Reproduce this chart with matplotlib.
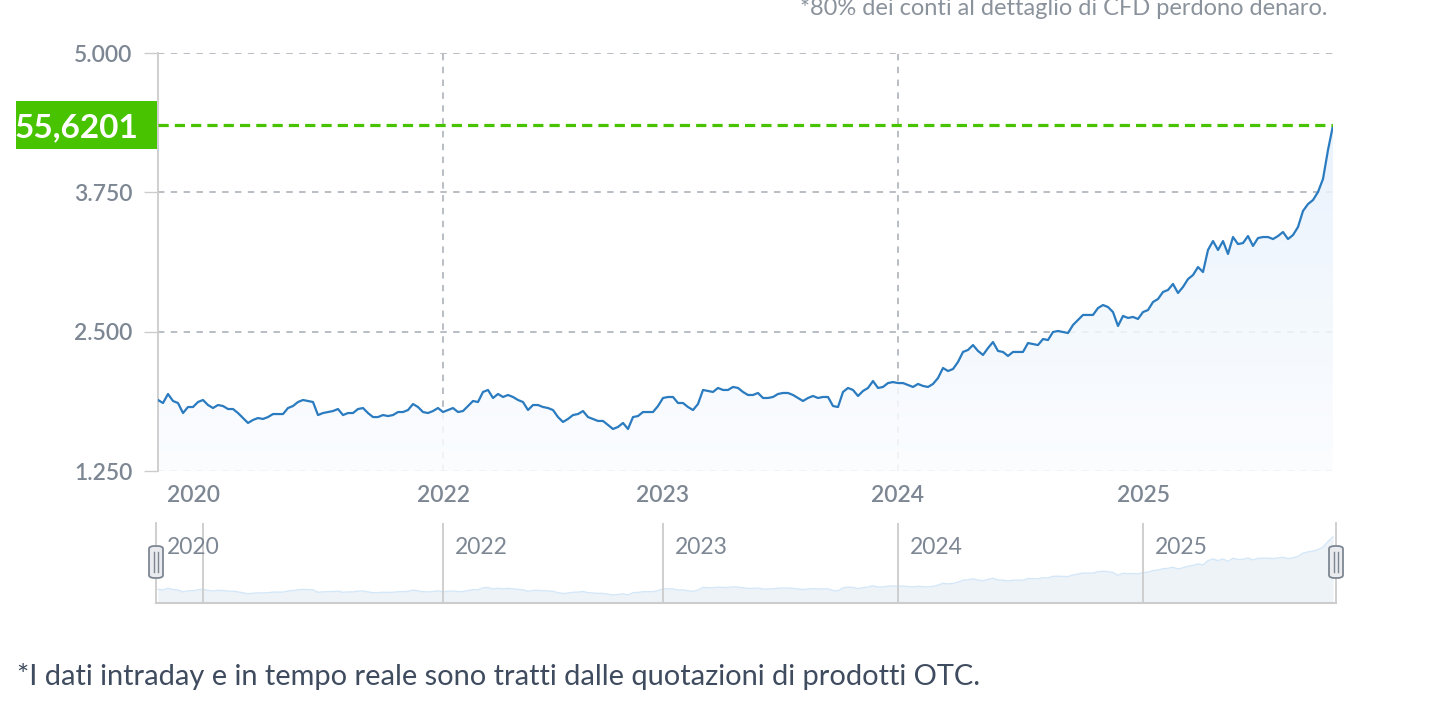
import numpy as np
import matplotlib
matplotlib.use('Agg')
import matplotlib.pyplot as plt
from matplotlib.patches import Polygon, Rectangle, FancyBboxPatch
from matplotlib.lines import Line2D
import matplotlib.transforms as mtransforms

# ---------------- data ----------------
seg_2019 = [1.887, 1.860, 1.941, 1.878, 1.860, 1.770, 1.824, 1.824, 1.869]
seg_2020 = [1.887, 1.842, 1.815, 1.842, 1.833, 1.806, 1.806, 1.770, 1.725, 1.681,
            1.708, 1.725, 1.717, 1.734, 1.761, 1.761, 1.761, 1.815, 1.833, 1.869,
            1.887, 1.878, 1.869, 1.752, 1.770, 1.779, 1.788, 1.806, 1.752, 1.770,
            1.770, 1.806, 1.815, 1.770, 1.734, 1.734, 1.752, 1.743, 1.752, 1.779,
            1.779, 1.797, 1.851, 1.824, 1.779, 1.770, 1.788, 1.815]
seg_2022 = [1.779, 1.797, 1.815, 1.779, 1.788, 1.833, 1.878, 1.869, 1.959, 1.977,
            1.905, 1.941, 1.914, 1.932, 1.914, 1.887, 1.869, 1.797, 1.842, 1.842,
            1.824, 1.815, 1.797, 1.734, 1.690, 1.717, 1.752, 1.761, 1.788, 1.734,
            1.717, 1.699, 1.699, 1.663, 1.627, 1.645, 1.681, 1.627, 1.734, 1.743,
            1.779, 1.779, 1.779, 1.833]
seg_2023 = [1.905, 1.914, 1.914, 1.860, 1.860, 1.824, 1.797, 1.851, 1.977, 1.968,
            1.959, 1.995, 1.977, 1.977, 2.004, 1.995, 1.959, 1.932, 1.932, 1.950,
            1.905, 1.905, 1.914, 1.941, 1.950, 1.950, 1.932, 1.905, 1.878, 1.905,
            1.923, 1.905, 1.914, 1.914, 1.833, 1.824, 1.959, 1.995, 1.977, 1.923,
            1.968, 1.995, 2.057, 1.995, 2.004, 2.039, 2.048]
seg_2024 = [2.039, 2.039, 2.022, 2.004, 2.031, 2.013, 2.004, 2.031, 2.084, 2.174,
            2.147, 2.165, 2.228, 2.318, 2.336, 2.380, 2.327, 2.291, 2.353, 2.407,
            2.327, 2.318, 2.282, 2.318, 2.318, 2.318, 2.398, 2.389, 2.380, 2.434,
            2.425, 2.497, 2.506, 2.497, 2.488, 2.560, 2.605, 2.650, 2.650, 2.650,
            2.712, 2.739, 2.721, 2.676, 2.551, 2.641, 2.623, 2.632, 2.614]
seg_2025 = [2.676, 2.694, 2.766, 2.793, 2.856, 2.874, 2.928, 2.847, 2.901, 2.972,
            3.008, 3.080, 3.035, 3.233, 3.313, 3.233, 3.313, 3.197, 3.349, 3.286,
            3.295, 3.358, 3.269, 3.340, 3.349, 3.349, 3.331, 3.358, 3.394, 3.331,
            3.367, 3.439, 3.583, 3.645, 3.681, 3.753, 3.870, 4.130, 4.350]

year_labels = ['2020', '2022', '2023', '2024', '2025']
grid_years = ['2022', '2024']
y_ticks = [1.25, 2.5, 3.75, 5.0]
y_tick_labels = ['1.250', '2.500', '3.750', '5.000']
last_label = '55,6201'
risk_note = '*80% dei conti al dettaglio di CFD perdono denaro.'
footer_note = '*I dati intraday e in tempo reale sono tratti dalle quotazioni di prodotti OTC.'

# ---------------- derived ----------------
segments = [seg_2019, seg_2020, seg_2022, seg_2023, seg_2024, seg_2025]
values = np.concatenate([np.asarray(s, float) for s in segments])
N = len(values)
x = np.arange(N)
tick_pos = np.cumsum([len(s) for s in segments])[:-1]

plt.rcParams['font.family'] = ['Lato', 'DejaVu Sans']

W, H = 1432, 714
fig = plt.figure(figsize=(W / 100, H / 100), dpi=100)
fig.patch.set_facecolor('white')

def fx(px):
    return px / W

def fy(py):
    return 1 - py / H

GRAY_TXT = '#7d8793'
GRID = '#a6acb5'
LINE = '#2a7bbf'
GREEN = '#48c300'

# ---------------- main chart ----------------
ax = fig.add_axes([fx(158), fy(471), (1333 - 158) / W, (471 - 53) / H])
ax.set_facecolor('none')
ymin, ymax = y_ticks[0], y_ticks[-1]

for t in y_ticks:
    ax.axhline(t, color=GRID, lw=1.1, dashes=(4.2, 4.2), zorder=1)
for yl in grid_years:
    p = tick_pos[year_labels.index(yl)]
    ax.axvline(p, color=GRID, lw=1.1, dashes=(4.2, 4.2), zorder=1)

# gradient area
verts = np.column_stack([np.r_[x, x[::-1]], np.r_[values, np.full(N, ymin)]])
poly = Polygon(verts, closed=True, facecolor='none', edgecolor='none')
ax.add_patch(poly)
g = np.linspace(0, 1, 256).reshape(-1, 1)
top = np.array([0.905, 0.945, 0.99])
bot = np.array([0.985, 0.992, 1.0])
img = np.zeros((256, 1, 4))
img[..., :3] = (bot + (top - bot) * g[..., None])[:, :, :]
img[..., 3] = 0.86
im = ax.imshow(img, extent=[0, N - 1, ymin, values.max()], origin='lower',
               aspect='auto', zorder=2, interpolation='bilinear')
im.set_clip_path(poly)

ax.plot(x, values, color=LINE, lw=1.6, zorder=3, solid_joinstyle='round')

# last value line
ax.axhline(values[-1], color=GREEN, lw=2.3, dashes=(3.2, 1.9), zorder=4)

ax.set_xlim(0, N - 1)
ax.set_ylim(ymin, ymax)
for s in ['top', 'right', 'bottom']:
    ax.spines[s].set_visible(False)
ax.spines['left'].set_color('#cccccc')
ax.spines['left'].set_linewidth(1.3)
ax.set_yticks(y_ticks)
ax.set_yticklabels(y_tick_labels)
ax.tick_params(axis='y', length=10, width=1.0, color='#cccccc', pad=8.5,
               labelsize=16.5, labelcolor=GRAY_TXT)
ax.set_xticks(tick_pos)
ax.set_xticklabels(year_labels)
ax.tick_params(axis='x', length=0, pad=10, labelsize=16.5, labelcolor=GRAY_TXT)
for lab in ax.get_yticklabels() + ax.get_xticklabels():
    lab.set_fontweight('semibold')
first = ax.get_xticklabels()[0]
first.set_transform(first.get_transform() +
                    mtransforms.ScaledTranslation(-9 / 100, 0, fig.dpi_scale_trans))

# green price label
fig.patches.append(Rectangle((fx(16), fy(149)), (157 - 16) / W, 48 / H,
                             transform=fig.transFigure, facecolor=GREEN,
                             edgecolor='none', zorder=5))
fig.text(fx(15), fy(125), last_label, ha='left', va='center_baseline',
         color='white', fontsize=24, fontweight='bold', zorder=6)

# ---------------- navigator ----------------
ppx = (1333 - 158) / (N - 1)
nav = fig.add_axes([fx(156), fy(603), (1336 - 156) / W, 80 / H])
nav.set_facecolor('none')
nav.fill_between(x, values, ymin, color='#eef3f8', lw=0, zorder=1)
nav.plot(x, values, color='#d4e7f8', lw=1.0, zorder=2)
for p in tick_pos:
    nav.axvline(p, color='#cccccc', lw=1.3, zorder=3)
nav.set_xlim(-2 / ppx, (N - 1) + 3 / ppx)
nav.set_ylim(ymin, ymax)
for s in ['top', 'right', 'left']:
    nav.spines[s].set_visible(False)
nav.spines['bottom'].set_color('#cccccc')
nav.spines['bottom'].set_linewidth(1.5)
nav.set_xticks([])
nav.set_yticks([])
btr = mtransforms.blended_transform_factory(nav.transData, nav.transAxes)
for i, (p, lab) in enumerate(zip(tick_pos, year_labels)):
    xp = p if i > 0 else nav.get_xlim()[0]
    off = 12 if i > 0 else 11
    tr = btr + mtransforms.ScaledTranslation(off / 100, 0, fig.dpi_scale_trans)
    nav.text(xp, 0.70, lab, transform=tr, ha='left', va='center',
             fontsize=16.5, color=GRAY_TXT)

# navigator frame edges and handles
for ex in (156, 1336):
    fig.add_artist(Line2D([fx(ex), fx(ex)], [fy(603), fy(523)],
                          transform=fig.transFigure, color='#cccccc', lw=1.3))
    fig.patches.append(FancyBboxPatch((fx(ex - 7), fy(578)), 14 / W, 32 / H,
                                      boxstyle='round,pad=0,rounding_size=0.004',
                                      transform=fig.transFigure,
                                      facecolor='#e9ebee', edgecolor='#7d8793',
                                      lw=1.3, zorder=6))
    for dx in (-1.8, 1.8):
        fig.add_artist(Line2D([fx(ex + dx), fx(ex + dx)], [fy(572), fy(552)],
                              transform=fig.transFigure, color='#7d8793',
                              lw=1.0, zorder=7))

# ---------------- notes ----------------
fig.text(fx(1328), fy(15), risk_note, ha='right', va='baseline',
         fontsize=17, color='#8a929c')
fig.text(fx(17), fy(676), footer_note, ha='left', va='center',
         fontsize=20.9, color='#3f4b5e')

fig.savefig('out.png', dpi=100, facecolor='white')
